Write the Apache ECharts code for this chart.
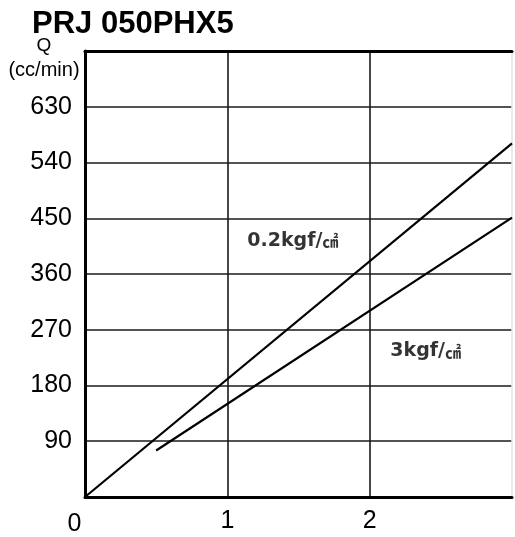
<!DOCTYPE html>
<html>
<head>
<meta charset="utf-8">
<style>
  html, body { margin: 0; padding: 0; background: #fff; }
  #chart { width: 515px; height: 537px; }
</style>
<script src="https://cdn.jsdelivr.net/npm/echarts@6/dist/echarts.min.js"></script>
</head>
<body>
<div id="chart"></div>
<script>
// ---- data ----
const chartTitle = 'PRJ 050PHX5';
const yName1 = 'Q';
const yName2 = '(cc/min)';
const xTicks = [0, 1, 2];
const yTicks = [90, 180, 270, 360, 450, 540, 630];
const line02 = [[0, 0], [3, 571]];        // 0.2kgf/cm2
const line3 = [[0.5, 75], [3, 451]];      // 3kgf/cm2
const annoText = ['0.2kgf/', '3kgf/'];
const annoUnit = '㎠';
const annoX = [1.14, 2.145];
const annoY = [413, 235];

const chart = echarts.init(document.getElementById('chart'), null, { renderer: 'canvas' });

const labelFont = 'Liberation Sans, Arial, sans-serif';
const textFont = 'DejaVu Sans, Noto Sans CJK SC, sans-serif';

chart.setOption({
  animation: false,
  backgroundColor: '#fff',
  title: {
    text: chartTitle,
    left: 32,
    top: 9,
    padding: 0,
    textStyle: { fontFamily: labelFont, fontWeight: 'bold', fontSize: 31, color: '#000' }
  },
  graphic: [
    { type: 'text', style: { text: yName1, x: 44, y: 46, align: 'center', verticalAlign: 'middle',
        fontFamily: labelFont, fontSize: 19, fill: '#000' } },
    { type: 'text', style: { text: yName2, x: 44, y: 70, align: 'center', verticalAlign: 'middle',
        fontFamily: labelFont, fontSize: 20, fill: '#000' } }
  ],
  grid: { left: 85, top: 51, right: 1, bottom: 38.3 },
  xAxis: [{
    type: 'value', min: 0, max: 3, interval: 1,
    axisLine: { show: true, onZero: false, lineStyle: { color: '#000', width: 3 } },
    axisTick: { show: false },
    splitLine: { show: true, lineStyle: { color: ['#1a1a1a', '#1a1a1a', '#1a1a1a', '#e6e6e6'], width: 1.6 } },
    axisLabel: {
      margin: 12,
      fontFamily: labelFont, fontSize: 25, color: '#000',
      formatter: v => xTicks.indexOf(v) < 0 ? '' : (v === 0 ? '{z|0}' : String(v)),
      rich: { z: { fontFamily: labelFont, fontSize: 25, color: '#000', padding: [3, 21, 0, 0] } }
    }
  }, {
    type: 'value', position: 'top', min: 0, max: 3, interval: 1,
    axisLine: { show: true, onZero: false, lineStyle: { color: '#000', width: 3 } },
    axisTick: { show: false }, axisLabel: { show: false }, splitLine: { show: false }
  }],
  yAxis: {
    type: 'value', min: 0, max: 720, interval: 90,
    axisLine: { show: true, onZero: false, lineStyle: { color: '#000', width: 3 } },
    axisTick: { show: false },
    splitLine: { show: true, lineStyle: { color: '#1a1a1a', width: 1.6 } },
    axisLabel: {
      margin: 13,
      fontFamily: labelFont, fontSize: 25, color: '#000',
      formatter: v => yTicks.indexOf(v) < 0 ? '' : String(v)
    }
  },
  series: [
    { type: 'line', data: line02, symbol: 'none', lineStyle: { color: '#000', width: 2.2 } },
    { type: 'line', data: line3, symbol: 'none', lineStyle: { color: '#000', width: 2.2 } },
    {
      type: 'scatter', symbolSize: 0,
      data: annoText.map((t, i) => ({ name: t, value: [annoX[i], annoY[i]] })),
      label: {
        show: true, position: 'right', distance: 0,
        formatter: p => p.name + '{u|' + annoUnit + '}',
        fontFamily: textFont, fontWeight: 'bold', fontSize: 19, color: '#000',
        rich: { u: { fontFamily: 'Noto Sans CJK SC, sans-serif', fontWeight: 'bold', fontSize: 16, color: '#000' } }
      }
    }
  ]
});
</script>
</body>
</html>
